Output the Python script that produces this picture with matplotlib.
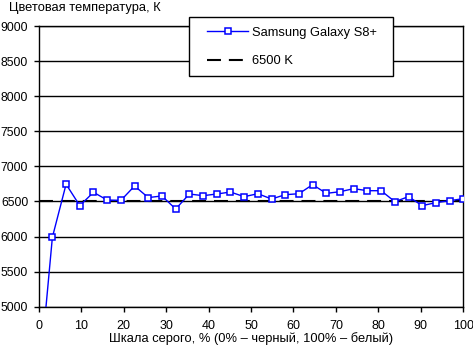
import matplotlib
matplotlib.use("Agg")
import matplotlib.pyplot as plt
from matplotlib.patches import Rectangle

# gray scale steps, % (32 steps, 0..100)
gray = [i * 100 / 31 for i in range(32)]
# measured color temperature, K
temp = [3870, 5990, 6745, 6440, 6630, 6520, 6515, 6720, 6555, 6578,
        6392, 6606, 6582, 6606, 6634, 6568, 6610, 6535, 6596, 6610,
        6739, 6615, 6639, 6682, 6653, 6653, 6497, 6568, 6440, 6483,
        6511, 6539]
ref_x = [0, 100]
ref_y = [6500, 6500]

plt.rcParams['font.family'] = ['Liberation Sans', 'DejaVu Sans']
fs = 9.3
W, H = 473, 349

fig = plt.figure(figsize=(4.73, 3.49), dpi=100)
ax = fig.add_axes([0.0818, 0.1212, 0.8977, 0.8043])

ax.plot(ref_x, ref_y, color='black', lw=1.5, dashes=(6.7, 3.8),
        label='6500 K', zorder=2)
ax.plot(gray, temp, color='#0000ff', lw=1, marker='s', ms=5,
        mfc='white', mec='#0000ff', mew=1.1, label='Samsung Galaxy S8+',
        zorder=3, clip_on=True)

ax.set_xlim(0, 100)
ax.set_ylim(5000, 9000)
ax.set_xticks(range(0, 101, 10))
ax.set_yticks(range(5000, 9001, 500))
ax.yaxis.grid(True, color='black', lw=1)
ax.set_axisbelow(True)
for s in ax.spines.values():
    s.set_color('black')
    s.set_linewidth(1)
ax.tick_params(direction='out', length=3.3, width=1, labelsize=8.8, pad=4.3)
ax.tick_params(axis='x', pad=6, labelsize=9)

ax.set_xlabel('Шкала серого, % (0% – черный, 100% – белый)', fontsize=fs,
              labelpad=0.5)
fig.text(9 / W, 1 - 2 / H, 'Цветовая температура, К', fontsize=fs,
         ha='left', va='top')

# legend frame
fig.add_artist(Rectangle((189.3 / W, 1 - 75.7 / H), 204 / W, 58.4 / H,
                         transform=fig.transFigure, facecolor='white',
                         edgecolor='black', lw=1, zorder=4))
h, l = ax.get_legend_handles_labels()
leg = fig.legend(h[::-1], l[::-1], loc='upper left',
                 bbox_to_anchor=(207 / W, 1 - 26.5 / H),
                 fontsize=fs, frameon=False, borderpad=0,
                 labelspacing=1.3, handlelength=3.18, handletextpad=0.31,
                 borderaxespad=0)
leg.set_zorder(5)

fig.savefig('out.png', dpi=100)
